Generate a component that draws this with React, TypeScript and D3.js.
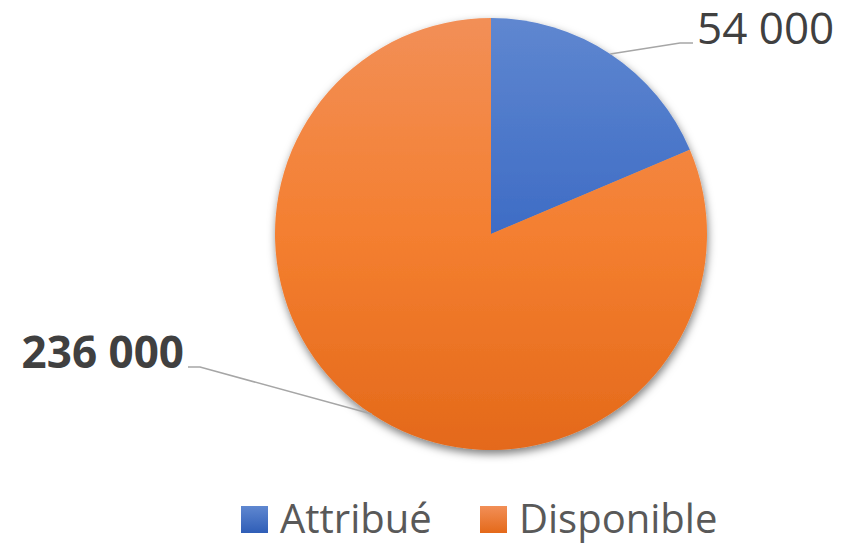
import React from "react";
import * as d3 from "d3";

const categories = ["Attribué", "Disponible"];
const values = [54000, 236000];

const W = 852;
const H = 546;
const cx = 491;
const cy = 234;
const R = 216;

const gradStops = [
  ["#5f87d0", "#3e6cc5", "#2f5eb7"],
  ["#f28f57", "#f47f30", "#e4691a"],
];

export default function App() {
  const pie = d3.pie<number>().sort(null).value((d) => d)(values);
  const arc = d3.arc<d3.PieArcDatum<number>>().innerRadius(0).outerRadius(R);
  const fmt = (v: number) => d3.format(",")(v).replace(/,/g, " ");

  const leaders = pie.map((p) => {
    const mid = (p.startAngle + p.endAngle) / 2;
    return { sx: cx + Math.sin(mid) * R, sy: cy - Math.cos(mid) * R };
  });

  return (
    <svg width={W} height={H} style={{ position: "absolute", left: 0, top: 0 }}>
      <defs>
        {gradStops.map((s, i) => (
          <linearGradient
            key={i}
            id={`g${i}`}
            gradientUnits="userSpaceOnUse"
            x1={0}
            y1={-R}
            x2={0}
            y2={R}
          >
            <stop offset="0" stopColor={s[0]} />
            <stop offset="0.5" stopColor={s[1]} />
            <stop offset="1" stopColor={s[2]} />
          </linearGradient>
        ))}
        {gradStops.map((s, i) => (
          <linearGradient key={`l${i}`} id={`lg${i}`} x1="0" y1="0" x2="0" y2="1">
            <stop offset="0" stopColor={s[0]} />
            <stop offset="1" stopColor={s[2]} />
          </linearGradient>
        ))}
        <filter id="sh" x="-20%" y="-20%" width="140%" height="140%">
          <feDropShadow dx="1" dy="4" stdDeviation="4" floodColor="#000" floodOpacity="0.5" />
        </filter>
      </defs>
      <g transform={`translate(${cx},${cy})`} filter="url(#sh)">
        {pie.map((p, i) => (
          <path key={i} d={arc(p) || ""} fill={`url(#g${i})`} />
        ))}
      </g>
      <polyline
        points={`${leaders[0].sx},${leaders[0].sy} 680,43 693,43`}
        fill="none"
        stroke="#a6a6a6"
        strokeWidth={1.5}
      />
      <polyline
        points={`${leaders[1].sx},${leaders[1].sy} 200,367 188,367`}
        fill="none"
        stroke="#a6a6a6"
        strokeWidth={1.5}
      />
      <text x={697} y={44} fontFamily="Open Sans" fontSize={44} fill="#404040">
        {fmt(values[0])}
      </text>
      <text
        x={184}
        y={368}
        textAnchor="end"
        fontFamily="Open Sans"
        fontWeight="bold"
        fontSize={44}
        fill="#404040"
      >
        {fmt(values[1])}
      </text>
      {categories.map((c, i) => {
        const x0 = [241, 480][i];
        return (
          <g key={c}>
            <rect x={x0} y={506} width={27} height={27} fill={`url(#lg${i})`} />
            <text x={x0 + 39} y={533} fontFamily="Open Sans" fontSize={40} fill="#595959">
              {c}
            </text>
          </g>
        );
      })}
    </svg>
  );
}
